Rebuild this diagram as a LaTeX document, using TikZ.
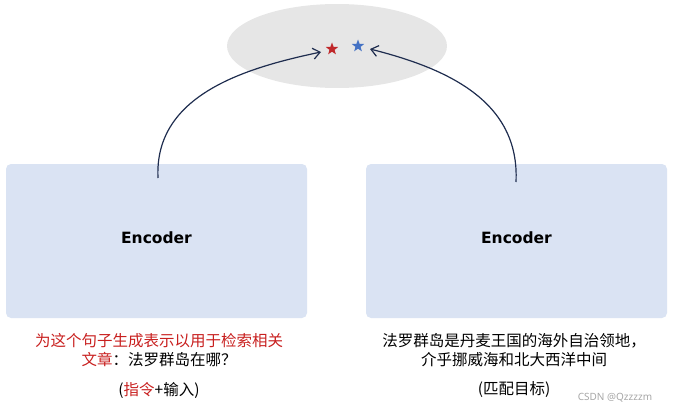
\documentclass[tikz,border=0pt]{standalone}
\usepackage{fontspec}
\setmainfont{Noto Sans}
\newfontfamily\cjk{Noto Sans CJK SC}
\newfontfamily\encfont{DejaVu Sans}
\usetikzlibrary{shapes.geometric,arrows.meta}
\definecolor{boxfill}{HTML}{DAE3F3}
\definecolor{ellfill}{HTML}{E6E6E6}
\definecolor{navy}{HTML}{1F2D4F}
\definecolor{redtxt}{HTML}{C8201F}
\definecolor{starred}{HTML}{C0282A}
\definecolor{starblue}{HTML}{4472C4}
\tikzset{
  encbox/.style={fill=boxfill, rounded corners=5pt, minimum width=301pt, minimum height=154pt, inner sep=0pt},
  enclabel/.style={font=\encfont\bfseries\fontsize{15.5}{18}\selectfont, inner sep=0pt},
  cnline/.style={font=\cjk\fontsize{15.5}{18}\selectfont, inner sep=0pt},
  conn/.style={draw=navy, line width=1.2pt, -{Straight Barb[length=7pt,width=11pt]}},
  starmark/.style={star, star points=5, star point ratio=2.4, minimum size=13pt, inner sep=0pt},
}
\begin{document}
\begin{tikzpicture}[x=1pt,y=-1pt]
\useasboundingbox (0,0) rectangle (679,412);
\node[ellipse, fill=ellfill, minimum width=220pt, minimum height=84pt, inner sep=0pt] (emb) at (337,46) {};
\node[starmark, fill=starred] (s1) at (332,49) {};
\node[starmark, fill=starblue] (s2) at (358,46) {};
\node[encbox] (encl) at (156.5,241) {};
\node[encbox] (encr) at (516.5,241) {};
\node[enclabel] (encltext) at (156.5,238) {Encoder};
\node[enclabel] (encrtext) at (516.5,238) {Encoder};
\coordinate (al) at (158,178);
\coordinate (ar) at (516,182);
\coordinate (tl) at (321,52);
\coordinate (tr) at (370,49);
\draw[conn] (al) .. controls (154,95) and (245,68) .. (tl);
\draw[conn] (ar) .. controls (520,100) and (445,68) .. (tr);
\node[cnline, text=redtxt] (l1) at (159,341) {为这个句子生成表示以用于检索相关};
\node[cnline] (l2) at (159,360) {\textcolor{redtxt}{文章}：法罗群岛在哪？};
\node[cnline] (l3) at (159,390) {(\textcolor{redtxt}{指令}+输入)};
\node[cnline] (r1) at (514,341) {法罗群岛是丹麦王国的海外自治领地，};
\node[cnline] (r2) at (514,360) {介乎挪威海和北大西洋中间};
\node[cnline] (r3) at (514,390) {(匹配目标)};
\node[font=\fontsize{10}{12}\selectfont, text=gray!70, inner sep=0pt] (wm) at (615,398) {CSDN @Qzzzzm};
\end{tikzpicture}
\end{document}
